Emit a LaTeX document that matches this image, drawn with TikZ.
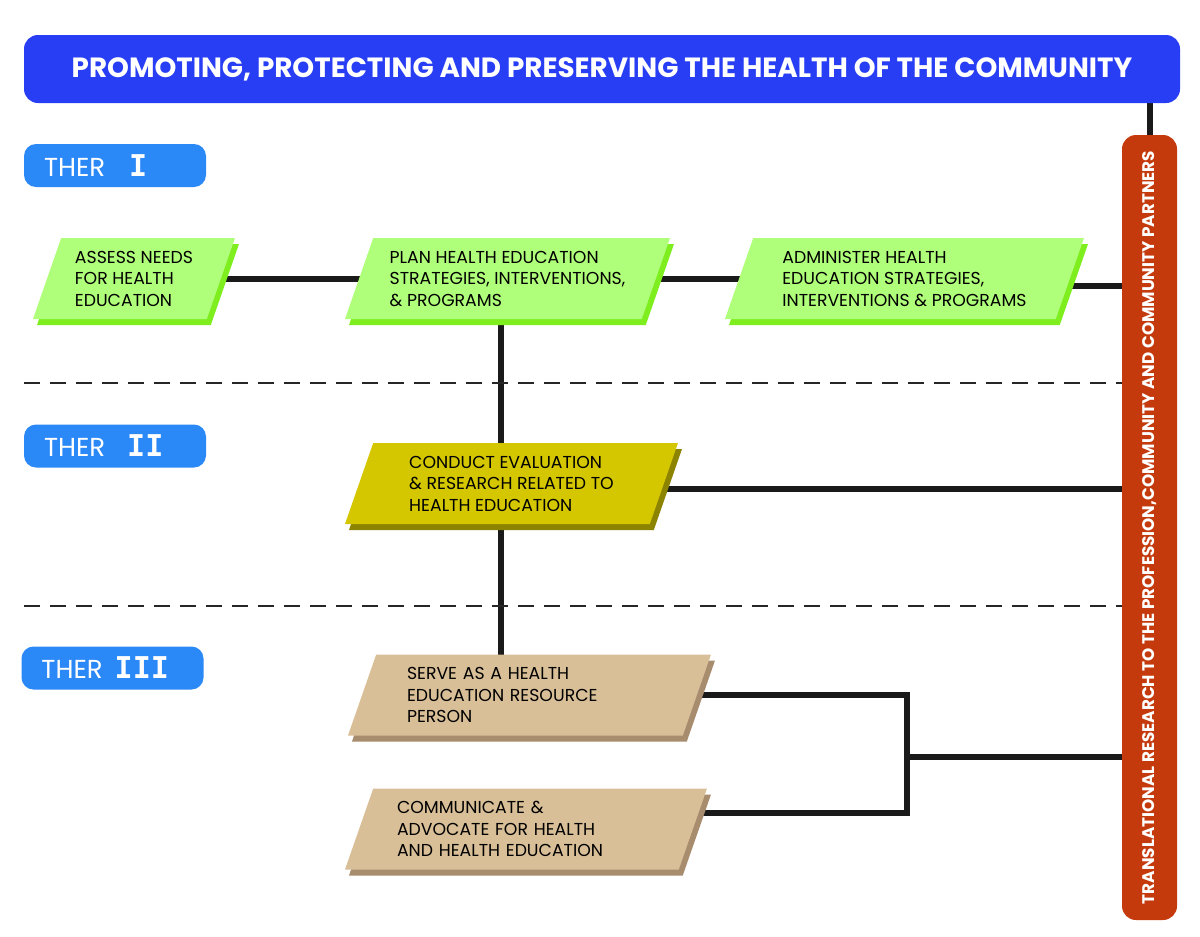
\documentclass[tikz,border=0pt]{standalone}
\usepackage{fontspec}
\setmainfont{Poppins}
\newfontfamily\numfont{DejaVu Sans Mono}
\usepackage{tikz}
\usetikzlibrary{shapes.geometric, shadows, backgrounds, calc}

\definecolor{titleblue}{RGB}{40,62,245}
\definecolor{tierblue}{RGB}{43,136,247}
\definecolor{barred}{RGB}{196,58,12}
\definecolor{leaf}{RGB}{176,255,122}
\definecolor{leafdark}{RGB}{126,238,30}
\definecolor{olive}{RGB}{212,199,0}
\definecolor{olivedark}{RGB}{140,131,0}
\definecolor{sand}{RGB}{217,191,152}
\definecolor{sanddark}{RGB}{168,140,110}
\definecolor{linkgray}{RGB}{26,26,26}

\begin{document}
\begin{tikzpicture}[
        x=1pt, y=-1pt,
        banner/.style={rectangle, rounded corners=14pt, fill=titleblue, text=white, minimum width=1156pt, minimum height=68pt, font=\bfseries\fontsize{27.8}{28}\selectfont},
        tier/.style={rectangle, rounded corners=12pt, fill=tierblue, text=white, minimum width=182pt, minimum height=43pt, inner xsep=20pt, inner ysep=0pt, text width=142pt, align=left, font=\fontsize{26}{26}\selectfont},
        partners/.style={rectangle, rounded corners=14pt, fill=barred, text=white, minimum width=55pt, minimum height=785pt, inner sep=0pt, font=\bfseries\fontsize{16.8}{16.8}\selectfont},
        task/.style={trapezium, trapezium left angle=63, trapezium right angle=117, trapezium stretches body, minimum height=81pt, inner sep=0pt, align=left, text=black, font=\fontsize{17.3}{21.5}\selectfont},
        leafbox/.style={task, fill=leaf, drop shadow={shadow xshift=4pt, shadow yshift=-6pt, fill=leafdark, opacity=1}},
        olivebox/.style={task, fill=olive, drop shadow={shadow xshift=4pt, shadow yshift=-6pt, fill=olivedark, opacity=1}},
        sandbox/.style={task, fill=sand, drop shadow={shadow xshift=4pt, shadow yshift=-6pt, fill=sanddark, opacity=1}},
        link/.style={draw=linkgray, line width=6pt},
        divider/.style={draw=black!85, line width=1.3pt, dash pattern=on 16pt off 10pt}
    ]
        \useasboundingbox (0,0) rectangle (1200,937);

        % Title and side bar
        \node[banner] (title) at (602,69) {PROMOTING, PROTECTING AND PRESERVING THE HEALTH OF THE COMMUNITY};
        \node[partners] (bar) at (1149.5,527.5) {\rotatebox{90}{TRANSLATIONAL RESEARCH TO THE PROFESSION,COMMUNITY AND COMMUNITY PARTNERS}};

        % Tier labels
        \node[tier] (tierI) at (115,165.5) {THER\hspace{24pt}{\numfont\bfseries\fontsize{30}{30}\selectfont I}};
        \node[tier] (tierII) at (115,446) {THER\hspace{22pt}{\numfont\bfseries\fontsize{30}{30}\selectfont II}};
        \node[tier] (tierIII) at (112.5,668) {THER\hspace{12pt}{\numfont\bfseries\fontsize{30}{30}\selectfont III}};

        % Tier separators
        \draw[divider] (24,383) -- (1122,383);
        \draw[divider] (24,606) -- (1122,606);

        % Responsibilities
        \node[leafbox, minimum width=202pt] (assess) at (134,278.5) {ASSESS NEEDS\\FOR HEALTH\\EDUCATION};
        \node[leafbox, minimum width=325pt] (plan) at (507.5,278.5) {PLAN HEALTH EDUCATION\\STRATEGIES, INTERVENTIONS,\\\& PROGRAMS};
        \node[leafbox, minimum width=359pt] (admin) at (904.5,278.5) {ADMINISTER HEALTH\\EDUCATION STRATEGIES,\\INTERVENTIONS \& PROGRAMS};
        \node[olivebox, minimum width=333pt] (conduct) at (511.5,483.5) {CONDUCT EVALUATION\\\& RESEARCH RELATED TO\\HEALTH EDUCATION};
        \node[sandbox, minimum width=363pt, text width=245pt] (serve) at (529.5,695) {SERVE AS A HEALTH\\EDUCATION RESOURCE\\PERSON};
        \node[sandbox, minimum width=362pt, text width=258pt] (comm) at (526,829) {COMMUNICATE \&\\ADVOCATE FOR HEALTH\\AND HEALTH EDUCATION};

        % Links
        \coordinate (spine) at (501,0);
        \coordinate (fork) at (907,757);
        \coordinate (adminout) at ($(admin.center)+(0,7)$);
        \coordinate (conductout) at ($(conduct.center)+(0,5)$);
        \coordinate (commout) at ($(comm.center)+(0,-16)$);
        \begin{scope}[on background layer]
            \draw[link] (title.center -| bar.center) -- (bar.center);
            \draw[link] (assess.center) -- (plan.center);
            \draw[link] (plan.center) -- (admin.center);
            \draw[link] (adminout) -- (adminout -| bar.center);
            \draw[link] (spine |- plan.center) -- (spine |- conduct.center);
            \draw[link] (spine |- conduct.center) -- (spine |- serve.center);
            \draw[link] (conductout) -- (conductout -| bar.center);
            \draw[link] (serve.center) -| (fork) |- (commout);
            \draw[link] (fork) -- (fork -| bar.center);
        \end{scope}
    \end{tikzpicture}
\end{document}
